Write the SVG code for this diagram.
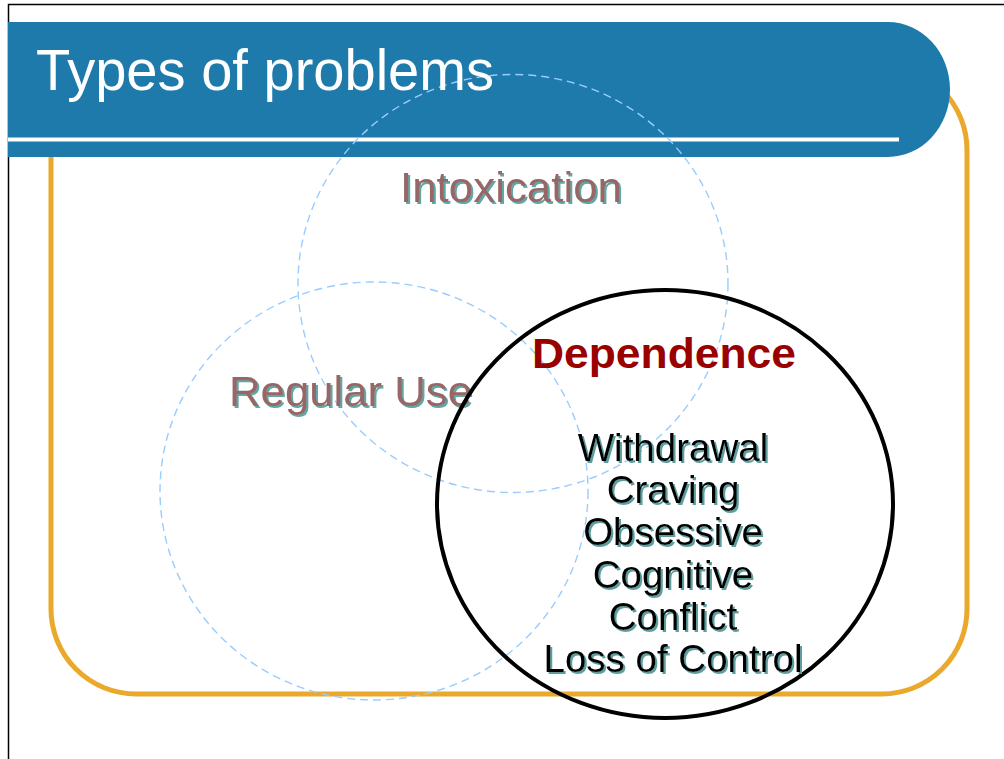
<svg xmlns="http://www.w3.org/2000/svg" width="1004" height="759" viewBox="0 0 1004 759">
<style>
  .frame { fill: none; stroke: #000; stroke-width: 1.5; }
  .orange { fill: none; stroke: #eaa92c; stroke-width: 5; }
  .banner { fill: #1d7aaa; }
  .dashed { fill: none; stroke: #99ccff; stroke-width: 1.4; stroke-dasharray: 8 5; }
  .black { fill: none; stroke: #000; stroke-width: 4; }
  .title { font-family: "Liberation Sans", Arial, sans-serif; font-size: 58px; fill: #fff; }
  .label { font-family: "Liberation Sans", Arial, sans-serif; font-size: 43px; fill: #996666; filter: url(#sh); }
  .dep { font-family: "Liberation Sans", Arial, sans-serif; font-size: 43px; font-weight: bold; fill: #990000; }
  .item { font-family: "Liberation Sans", Arial, sans-serif; font-size: 38.5px; fill: #000; filter: url(#sh2); text-anchor: middle; }
</style>
<defs>
  <filter id="sh" x="-5%" y="-20%" width="110%" height="140%">
    <feDropShadow dx="2" dy="2" stdDeviation="0" flood-color="#5fa6a6" flood-opacity="1"/>
  </filter>
  <filter id="sh2" x="-5%" y="-20%" width="110%" height="140%">
    <feDropShadow dx="2" dy="2" stdDeviation="0" flood-color="#5f9e9e" flood-opacity="1"/>
  </filter>
</defs>
<rect width="1004" height="759" fill="#fff"/>
<g id="page-frame">
  <path class="frame" d="M8.5,759 V4.5 H1004"/>
</g>
<g id="content-box">
  <rect class="orange" x="51" y="65" width="916" height="629" rx="85" ry="85"/>
</g>
<g id="title-banner">
  <path class="banner" d="M8,22 H888 A62,67.5 0 0 1 888,157 H8 Z"/>
  <rect x="8" y="137.5" width="891" height="4" fill="#fff"/>
</g>
<g id="intoxication">
  <ellipse class="dashed" cx="513" cy="283.5" rx="215" ry="209"/>
  <text class="label" x="400" y="202" textLength="222" lengthAdjust="spacingAndGlyphs">Intoxication</text>
</g>
<g id="regular-use">
  <ellipse class="dashed" cx="374" cy="491" rx="214" ry="209"/>
  <text class="label" x="229" y="406" textLength="243" lengthAdjust="spacingAndGlyphs">Regular Use</text>
</g>
<g id="title">
  <text class="title" x="36" y="90" textLength="458" lengthAdjust="spacingAndGlyphs">Types of problems</text>
</g>
<g id="dependence">
  <ellipse class="black" cx="665" cy="504" rx="228" ry="214"/>
  <text class="dep" x="532" y="368" textLength="264" lengthAdjust="spacingAndGlyphs">Dependence</text>
  <text class="item" x="673" y="461">Withdrawal</text>
  <text class="item" x="673" y="503">Craving</text>
  <text class="item" x="673" y="545">Obsessive</text>
  <text class="item" x="673" y="588">Cognitive</text>
  <text class="item" x="673" y="630">Conflict</text>
  <text class="item" x="673" y="672">Loss of Control</text>
</g>
</svg>
